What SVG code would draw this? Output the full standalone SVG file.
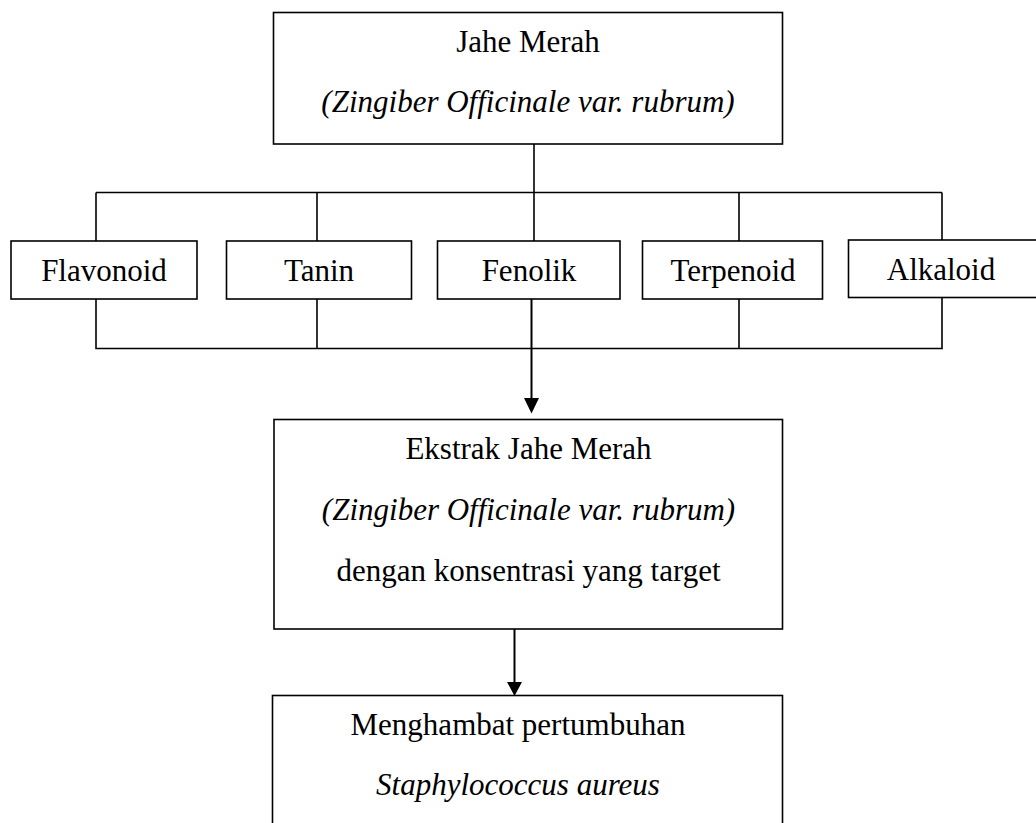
<svg xmlns="http://www.w3.org/2000/svg" width="1036" height="823" viewBox="0 0 1036 823">
<style>
.box{fill:#fff;stroke:#000;stroke-width:1.6}
.ln{fill:none;stroke:#000;stroke-width:1.6}
.ar{fill:none;stroke:#000;stroke-width:2}
text{font-family:"Liberation Serif","Times New Roman",serif;font-size:31px;fill:#000;text-anchor:middle}
.it{font-style:italic}
</style>
<defs>
<marker id="ah" markerUnits="userSpaceOnUse" markerWidth="16" markerHeight="16" refX="8" refY="15" orient="auto" viewBox="0 0 16 16">
<path d="M0.5,0 L15.5,0 L8,15 Z" fill="#000" transform="rotate(-90 8 8) translate(0 0)"/>
</marker>
</defs>
<rect width="1036" height="823" fill="#fff"/>
<g id="connectors">
<path class="ln" d="M534,144 V192.5 M96,192.5 H942 M96,192.5 V241 M317,192.5 V241 M534,192.5 V241 M739,192.5 V241 M942,192.5 V240"/>
<path class="ln" d="M96,299 V348.5 H942 V297 M317,299 V348.5 M739,299 V348.5"/>
<path class="ar" d="M531.5,299 V400"/>
<path d="M524,398 L539,398 L531.5,413.5 Z" fill="#000"/>
<path class="ar" d="M514.5,629 V684"/>
<path d="M507,682 L522,682 L514.5,696 Z" fill="#000"/>
</g>
<g id="jahe-merah">
<rect class="box" x="273.5" y="12.5" width="509" height="131.5"/>
<text x="528" y="52">Jahe Merah</text>
<text class="it" x="528" y="112">(Zingiber Officinale var. rubrum)</text>
</g>
<g id="flavonoid">
<rect class="box" x="11" y="241" width="186" height="58"/>
<text x="104" y="281">Flavonoid</text>
</g>
<g id="tanin">
<rect class="box" x="226.5" y="241" width="185" height="58"/>
<text x="319" y="281">Tanin</text>
</g>
<g id="fenolik">
<rect class="box" x="437.5" y="241" width="182.5" height="58"/>
<text x="529" y="281">Fenolik</text>
</g>
<g id="terpenoid">
<rect class="box" x="642.5" y="241" width="180" height="58"/>
<text x="733" y="281">Terpenoid</text>
</g>
<g id="alkaloid">
<rect class="box" x="848.5" y="240" width="195" height="57.5"/>
<text x="941" y="279.5">Alkaloid</text>
</g>
<g id="ekstrak">
<rect class="box" x="274" y="419.5" width="508.5" height="209.5"/>
<text x="528.5" y="459">Ekstrak Jahe Merah</text>
<text class="it" x="528.5" y="519.5">(Zingiber Officinale var. rubrum)</text>
<text x="528.5" y="580.5">dengan konsentrasi yang target</text>
</g>
<g id="menghambat">
<rect class="box" x="272.5" y="695.5" width="510" height="140"/>
<text x="518" y="735">Menghambat pertumbuhan</text>
<text class="it" x="518" y="795">Staphylococcus aureus</text>
</g>
</svg>
